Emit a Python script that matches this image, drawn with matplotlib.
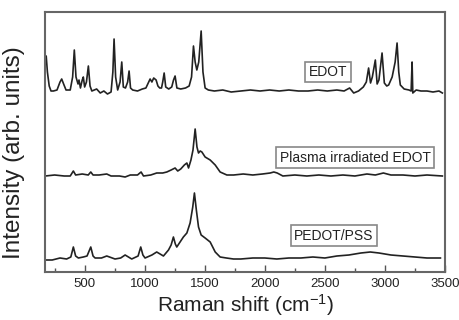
import matplotlib
matplotlib.use("Agg")
import matplotlib.pyplot as plt
from matplotlib.ticker import MultipleLocator

plt.rcParams['font.family'] = ['Liberation Sans', 'DejaVu Sans']
plt.rcParams['mathtext.fontset'] = 'custom'
plt.rcParams['mathtext.rm'] = 'Liberation Sans'
plt.rcParams['mathtext.it'] = 'Liberation Sans:italic'

# ---- EDOT spectrum (wavenumber, intensity incl. offset) ----
edot_wn = [172, 180, 190, 205, 220, 240, 270, 295, 309, 325, 345, 380, 400, 414, 428,
           445, 453, 465, 480, 489, 500, 515, 531, 545, 560, 600, 630, 660, 690, 720,
           735, 745, 758, 775, 795, 809, 822, 840, 858, 870, 882, 900, 940, 980, 1010,
           1045, 1060, 1075, 1095, 1110, 1125, 1140, 1150, 1162, 1175, 1200, 1225, 1240,
           1253, 1268, 1300, 1340, 1370, 1390, 1406, 1420, 1434, 1450, 1470, 1485, 1503,
           1530, 1580, 1650, 1720, 1800, 1880, 1960, 2040, 2120, 2200, 2280, 2360, 2440,
           2520, 2600, 2660, 2706, 2740, 2780, 2820, 2845, 2864, 2880, 2895, 2920, 2935,
           2950, 2976, 2995, 3015, 3031, 3060, 3085, 3101, 3115, 3128, 3160, 3200, 3218,
           3226, 3232, 3260, 3300, 3350, 3400, 3450, 3478]
edot_int = [212, 216, 200, 186, 181, 181, 182, 190, 193, 188, 182, 182, 195, 222, 195,
            188, 192, 184, 192, 195, 185, 190, 206, 186, 181, 183, 179, 181, 178, 180,
            200, 233, 195, 182, 190, 210, 185, 184, 190, 201, 184, 182, 181, 183, 184,
            193, 190, 194, 192, 186, 184, 184, 190, 199, 185, 183, 185, 192,
            196, 184, 183, 184, 186, 195, 226, 210, 202, 210, 241, 200, 184,
            182, 181, 182, 180, 181, 182, 181, 182, 181, 182, 181, 181, 182,
            181, 182, 181, 184, 179, 181, 185, 190, 204, 189, 195, 212, 188,
            192, 219, 189, 186, 187, 195, 210, 229, 200, 187, 183, 182, 181,
            210, 179, 182, 181, 181, 180, 181, 179]

# ---- Plasma irradiated EDOT ----
plasma_wn = [172, 250, 330, 380, 406, 425, 480, 530, 551, 570, 620, 684, 720, 790, 837,
             880, 940, 970, 990, 1050, 1100, 1150, 1184, 1220, 1253, 1275, 1300, 1330,
             1351, 1365, 1385, 1402, 1420, 1435, 1448, 1462, 1476, 1503, 1545, 1587,
             1628, 1684, 1740, 1820, 1900, 1980, 2045, 2075, 2103, 2150, 2250, 2350,
             2450, 2550, 2650, 2750, 2850, 2920, 2987, 3050, 3150, 3250, 3350, 3478]
plasma_int = [96, 97, 96, 96, 101, 97, 98, 97, 100, 97, 97, 98, 96, 96, 95,
              97, 97, 100, 96, 97, 99, 99, 100, 102, 104, 101, 103, 107,
              109, 104, 112, 122, 143, 125, 119, 121, 120, 115, 112, 107,
              100, 97, 97, 98, 97, 98, 99, 100, 99, 96, 97, 96,
              97, 96, 97, 96, 98, 97, 99, 97, 97, 96, 97, 96]

# ---- PEDOT/PSS ----
pedot_wn = [172, 230, 295, 350, 385, 406, 425, 448, 489, 520, 551, 570, 587, 640, 684,
            753, 800, 837, 892, 945, 967, 985, 1003, 1060, 1100, 1156, 1198, 1220, 1239,
            1255, 1267, 1300, 1322, 1351, 1378, 1400, 1414, 1430, 1448, 1470, 1503, 1545,
            1587, 1628, 1680, 1739, 1800, 1900, 2000, 2100, 2200, 2300, 2400, 2500, 2600,
            2700, 2800, 2878, 2950, 3050, 3150, 3250, 3350, 3462]
pedot_int = [12, 12, 14, 13, 15, 25, 16, 14, 15, 16, 25, 16, 14, 14, 16,
             13, 14, 17, 13, 16, 25, 17, 14, 17, 20, 16, 22, 27, 35,
             28, 25, 31, 35, 39, 49, 65, 79, 62, 45, 37, 34, 30,
             20, 15, 14, 13, 13, 14, 14, 13, 14, 14, 15, 14, 16,
             17, 19, 20, 19, 17, 16, 15, 14, 14]

labels = ["EDOT", "Plasma irradiated EDOT", "PEDOT/PSS"]
label_x = [2525, 2753, 2575]
label_y = [200, 114.5, 36.5]

fig = plt.figure(figsize=(4.6, 3.2), dpi=100)
ax = fig.add_axes([45/460, 48/320, 400/460, 260/320])

line_color = "#222222"
for wn, inten in [(edot_wn, edot_int), (plasma_wn, plasma_int), (pedot_wn, pedot_int)]:
    ax.plot(wn, inten, color=line_color, lw=1.2)

for t, x, y in zip(labels, label_x, label_y):
    ax.text(x, y, t, ha="center", va="center", fontsize=10, color="#222222",
            bbox=dict(boxstyle="square,pad=0.25", fc="white", ec="#888888", lw=1.2))

ax.set_xlim(170, 3500)
ax.set_ylim(0, 260)
ax.set_yticks([])
ax.xaxis.set_major_locator(MultipleLocator(500))
ax.xaxis.set_minor_locator(MultipleLocator(250))
ax.tick_params(axis="x", which="major", direction="in", length=5, width=1, colors="#555555",
               labelcolor="#222222", labelsize=9.5, pad=4)
ax.tick_params(axis="x", which="minor", direction="in", length=3, width=1, colors="#555555")
ax.set_xticks([500, 1000, 1500, 2000, 2500, 3000, 3500])
for s in ax.spines.values():
    s.set_color("#666666")
    s.set_linewidth(1.5)

ax.set_xlabel("Raman shift (cm$^{-1}$)", fontsize=15, color="#222222", labelpad=2)
ax.set_ylabel("Intensity (arb. units)", fontsize=17.5, color="#222222")
ax.yaxis.set_label_coords(-0.05, 0.46)

fig.savefig("out.png", dpi=100)
